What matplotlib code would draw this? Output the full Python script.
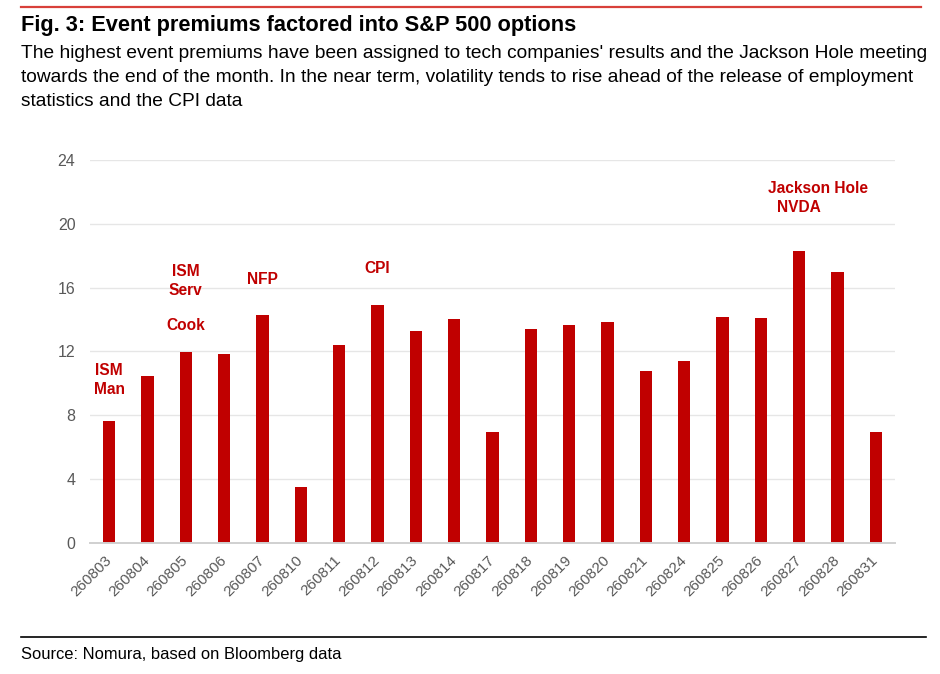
import matplotlib
matplotlib.use("Agg")
import matplotlib.pyplot as plt
from matplotlib.lines import Line2D

dates = ["260803", "260804", "260805", "260806", "260807", "260810", "260811",
         "260812", "260813", "260814", "260817", "260818", "260819", "260820",
         "260821", "260824", "260825", "260826", "260827", "260828", "260831"]
premiums = [7.65, 10.45, 11.95, 11.85, 14.25, 3.5, 12.37, 14.9, 13.25, 14.05,
            6.97, 13.42, 13.63, 13.84, 10.78, 11.37, 14.17, 14.11, 18.27, 16.99, 6.97]
yticks = [0, 4, 8, 12, 16, 20, 24]

# event annotations: (x position in category units, y value, label)
event_x = [0, 2, 2, 4, 7, 18, 18.5]
event_y = [10.2, 16.4, 13.6, 16.5, 17.2, 21.0, 22.2]
event_labels = ["ISM\nMan", "ISM\nServ", "Cook", "NFP", "CPI", "NVDA", "Jackson Hole"]

RED = "#C00000"
GRAY = "#595959"

plt.rcParams["font.family"] = ["Liberation Sans", "DejaVu Sans"]

W, H = 940, 674
fig = plt.figure(figsize=(W / 100, H / 100), dpi=100)

def fx(px):
    return px / W

def fy(py):
    return 1 - py / H

ax = fig.add_axes([fx(90), fy(542.7), fx(895) - fx(90), fy(160) - fy(542.7)])
x = list(range(len(dates)))
ax.bar(x, premiums, width=0.32, color=RED, zorder=3)
ax.set_xlim(-0.5, len(dates) - 0.5)
ax.set_ylim(0, 24)
ax.set_yticks(yticks)
ax.set_yticklabels([str(t) for t in yticks])
ax.set_xticks(x)
ax.set_xticklabels(dates, rotation=45, ha="right", rotation_mode="anchor")
ax.tick_params(axis="y", length=0, pad=10.5, labelsize=11.5, labelcolor=GRAY)
ax.tick_params(axis="x", length=0, pad=11, labelsize=11, labelcolor=GRAY)
for lbl in ax.get_xticklabels():
    lbl.set_va("center")
ax.grid(axis="y", color="#e6e6e6", linewidth=1.0, zorder=0)
for s in ["left", "right", "top"]:
    ax.spines[s].set_visible(False)
ax.spines["bottom"].set_color("#d0d0d0")
ax.spines["bottom"].set_linewidth(1.4)
ax.spines["bottom"].set_zorder(4)

for ex, ey, el in zip(event_x, event_y, event_labels):
    ax.text(ex, ey, el, color=RED, fontsize=11.2, fontweight="bold",
            ha="center", va="center", linespacing=1.35)

# header
fig.add_artist(Line2D([fx(21), fx(921)], [fy(7), fy(7)], color="#d8403a", linewidth=1.6))
fig.text(fx(21), fy(26), "Fig. 3: Event premiums factored into S&P 500 options",
         fontsize=15.7, fontweight="bold", color="black", ha="left", va="center")
subtitle = ["The highest event premiums have been assigned to tech companies' results and the Jackson Hole meeting",
            "towards the end of the month. In the near term, volatility tends to rise ahead of the release of employment",
            "statistics and the CPI data"]
for i, line in enumerate(subtitle):
    fig.text(fx(21), fy(54 + 23.5 * i), line, fontsize=13.75, color="black",
             ha="left", va="center")

# footer
fig.add_artist(Line2D([fx(21), fx(926)], [fy(637), fy(637)], color="black", linewidth=1.2))
fig.text(fx(21), fy(654), "Source: Nomura, based on Bloomberg data", fontsize=11.9,
         color="black", ha="left", va="center")

fig.savefig("out.png", dpi=100)
